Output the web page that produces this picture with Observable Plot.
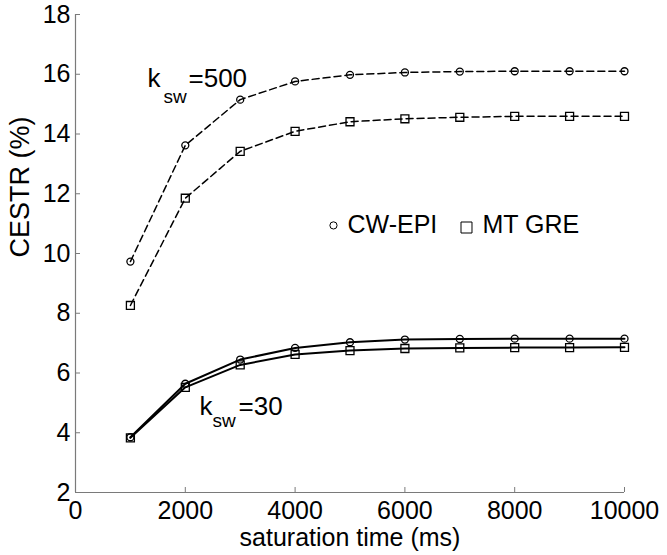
<!DOCTYPE html>
<html><head><meta charset="utf-8">
<script src="https://cdn.jsdelivr.net/npm/d3@7"></script>
<script src="https://cdn.jsdelivr.net/npm/@observablehq/plot@0.6"></script>
<style>
html,body{margin:0;padding:0;background:#fff}
svg{font-family:"Liberation Sans",Arial,sans-serif}
</style>
</head><body><div id="chart"></div>
<script>
// saturation time (ms)
const time = [1000, 2000, 3000, 4000, 5000, 6000, 7000, 8000, 9000, 10000];
// CESTR (%) values
const cwEpi500 = [9.73, 13.62, 15.15, 15.76, 15.98, 16.06, 16.09, 16.10, 16.10, 16.10];
const mtGre500 = [8.26, 11.85, 13.42, 14.09, 14.41, 14.51, 14.56, 14.59, 14.59, 14.59];
const cwEpi30  = [3.85, 5.64, 6.45, 6.84, 7.03, 7.12, 7.14, 7.15, 7.15, 7.15];
const mtGre30  = [3.83, 5.52, 6.27, 6.62, 6.75, 6.82, 6.84, 6.85, 6.85, 6.86];
const methods = ["CW-EPI", "MT GRE"];
const xTicks = [0, 2000, 4000, 6000, 8000, 10000];
const yTicks = [2, 4, 6, 8, 10, 12, 14, 16, 18];
const xLabel = "saturation time (ms)";
const yLabel = "CESTR (%)";

const mk = (vals, method, ksw) => vals.map((v, i) => ({t: time[i], v, method, ksw, series: method + ksw}));
const rows500 = [...mk(cwEpi500, methods[0], 500), ...mk(mtGre500, methods[1], 500)];
const rows30 = [...mk(cwEpi30, methods[0], 30), ...mk(mtGre30, methods[1], 30)];
const all = [...rows500, ...rows30];

const axisGray = "#7a7a7a";
const chart = Plot.plot({
  width: 667, height: 555,
  marginLeft: 75, marginRight: 43, marginTop: 14, marginBottom: 63,
  style: {background: "#fff", color: "#000", fontFamily: "'Liberation Sans', Arial, sans-serif", fontSize: "24px"},
  x: {domain: [0, 10000]},
  y: {domain: [2, 18]},
  marks: [
    Plot.ruleX([0], {stroke: axisGray, strokeWidth: 1.2}),
    Plot.ruleY([2], {stroke: axisGray, strokeWidth: 1.2}),
    Plot.axisX(xTicks, {tickSize: -5, tickPadding: 14, stroke: axisGray, fill: "#000", tickFormat: d => String(d), label: null, fontSize: 25}),
    Plot.axisY(yTicks, {tickSize: -5, tickPadding: 10, stroke: axisGray, fill: "#000", tickFormat: d => String(d), label: null, fontSize: 25}),
    Plot.text([xLabel], {frameAnchor: "bottom", dy: 53, lineAnchor: "bottom", fontSize: 25, fill: "#000"}),
    Plot.text([yLabel], {frameAnchor: "left", rotate: -90, dx: -55, dy: 4, fontSize: 27, fill: "#000"}),
    Plot.line(rows500, {x: "t", y: "v", z: "series", stroke: "#000", strokeWidth: 1.5, strokeDasharray: "7,4"}),
    Plot.line(rows30, {x: "t", y: "v", z: "series", stroke: "#000", strokeWidth: 2}),
    Plot.dot(all.filter(d => d.method === methods[0]), {x: "t", y: "v", symbol: "circle", r: 3.5, stroke: "#000", fill: "none", strokeWidth: 1.3}),
    Plot.dot(all.filter(d => d.method === methods[1]), {x: "t", y: "v", symbol: "square", r: 4.5, stroke: "#000", fill: "none", strokeWidth: 1.3}),
    // k_sw = 500 annotation
    Plot.text(["k"], {x: 1311, y: 15.56, textAnchor: "start", lineAnchor: "bottom", fontSize: 26, fill: "#000"}),
    Plot.text(["sw"], {x: 1603, y: 15.05, textAnchor: "start", lineAnchor: "bottom", fontSize: 19, fill: "#000"}),
    Plot.text(["=500"], {x: 2058, y: 15.56, textAnchor: "start", lineAnchor: "bottom", fontSize: 26, fill: "#000"}),
    // k_sw = 30 annotation
    Plot.text(["k"], {x: 2259, y: 4.58, textAnchor: "start", lineAnchor: "bottom", fontSize: 26, fill: "#000"}),
    Plot.text(["sw"], {x: 2495, y: 4.18, textAnchor: "start", lineAnchor: "bottom", fontSize: 19, fill: "#000"}),
    Plot.text(["=30"], {x: 2969, y: 4.58, textAnchor: "start", lineAnchor: "bottom", fontSize: 26, fill: "#000"}),
    // legend
    Plot.dot([methods[0]], {x: 4699, y: 10.94, symbol: "circle", r: 3.6, stroke: "#000", fill: "none", strokeWidth: 1}),
    Plot.text([methods[0]], {x: 4954, y: 10.70, textAnchor: "start", lineAnchor: "bottom", fontSize: 25, fill: "#000"}),
    Plot.dot([methods[1]], {x: 7122, y: 10.87, symbol: "square", r: 6.2, stroke: "#000", fill: "none", strokeWidth: 1}),
    Plot.text([methods[1]], {x: 7413, y: 10.70, textAnchor: "start", lineAnchor: "bottom", fontSize: 25, fill: "#000"})
  ]
});
document.getElementById("chart").appendChild(chart);
</script>
</body></html>
